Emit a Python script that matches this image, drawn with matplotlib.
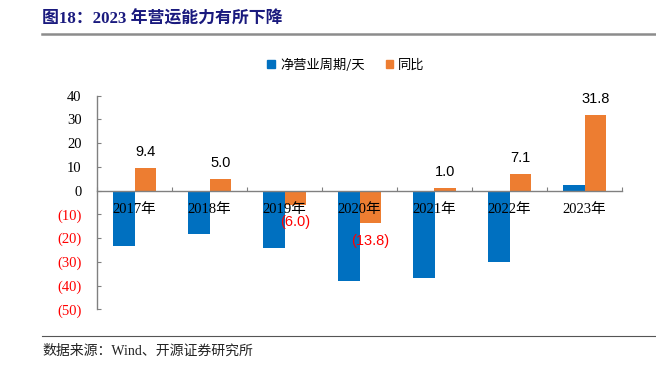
import matplotlib
matplotlib.use("Agg")
import matplotlib.pyplot as plt
from matplotlib.patches import Patch
import numpy as np

years = ["2017年", "2018年", "2019年", "2020年", "2021年", "2022年", "2023年"]
net_cycle = [-23.3, -18.2, -24.3, -38.1, -36.9, -29.9, 2.3]
yoy = [9.4, 5.0, -6.0, -13.8, 1.0, 7.1, 31.8]
yticks = [40, 30, 20, 10, 0, -10, -20, -30, -40, -50]

BLUE = "#0070C0"
ORANGE = "#ED7D31"
SERIF = ["Liberation Serif", "Noto Sans CJK SC"]
SANS = ["Liberation Sans", "Noto Sans CJK SC"]
CJK = ["Noto Sans CJK SC", "DejaVu Sans"]


def fmt(v):
    return "({:.1f})".format(-v) if v < 0 else "{:.1f}".format(v)


def fmt_tick(v):
    return "({:d})".format(-v) if v < 0 else "{:d}".format(v)


fig = plt.figure(figsize=(6.56, 3.67), dpi=100)
ax = fig.add_axes([97 / 656, 1 - 309.3 / 367, 525 / 656, (309.3 - 95.7) / 367])

x = np.arange(len(years))
w = 0.29
ax.bar(x - w / 2, net_cycle, w, color=BLUE, label="净营业周期/天")
ax.bar(x + w / 2, yoy, w, color=ORANGE, label="同比")

ax.set_xlim(-0.5, len(years) - 0.5)
ax.set_ylim(-50, 40)

# value labels for yoy
for i, v in enumerate(yoy):
    off = 11.5 if v >= 0 else -12.5
    ax.annotate(fmt(v), (x[i] + w / 2, v), xytext=(0, off), textcoords="offset points",
                ha="center", va="center", fontsize=10.5, family=SANS,
                color="black" if v >= 0 else "red")

# category labels just under the zero line
for i, lab in enumerate(years):
    ax.annotate(lab, (x[i], 0), xytext=(0, -13.5), textcoords="offset points",
                ha="center", va="center", fontsize=10.5, family=SERIF)

# axes styling
ax.spines["bottom"].set_position(("data", 0))
ax.spines["top"].set_visible(False)
ax.spines["right"].set_visible(False)
for s in ["left", "bottom"]:
    ax.spines[s].set_color("#808080")
    ax.spines[s].set_linewidth(1.0)

ax.set_xticks(np.arange(-0.5, len(years), 1.0))
ax.set_xticklabels([])
ax.tick_params(axis="x", direction="in", length=3, color="#808080")
ax.set_yticks(yticks)
ax.set_yticklabels([fmt_tick(t) for t in yticks], family=SERIF, fontsize=10.5)
for t, lab in zip(yticks, ax.get_yticklabels()):
    lab.set_color("red" if t < 0 else "black")
ax.tick_params(axis="y", direction="in", length=3, color="#808080", pad=11)

handles = [Patch(color=BLUE, label="净营业周期/天"), Patch(color=ORANGE, label="同比")]
fig.legend(handles=handles, loc="center", bbox_to_anchor=(346 / 656, 1 - 65 / 367), ncol=2,
           frameon=False, prop={"family": CJK, "size": 9.5}, handlelength=0.55, handleheight=0.55,
           handletextpad=0.4, columnspacing=1.6)

# title and footer
fig.text(42 / 656, 1 - 19 / 367, "图18：2023 年营运能力有所下降", family=SERIF, fontsize=12.2,
         fontweight="bold", color="#1A1A7E", ha="left", va="center")
fig.add_artist(plt.Line2D([42 / 656, 1], [1 - 33.5 / 367] * 2, color="#8C8C8C", lw=1.8))
fig.add_artist(plt.Line2D([42 / 656, 1], [1 - 336 / 367] * 2, color="#555555", lw=0.8))
fig.text(42 / 656, 1 - 351.5 / 367, "数据来源：Wind、开源证券研究所", family=SERIF, fontsize=10,
         color="#222222", ha="left", va="center")

fig.savefig("out.png", dpi=100)
